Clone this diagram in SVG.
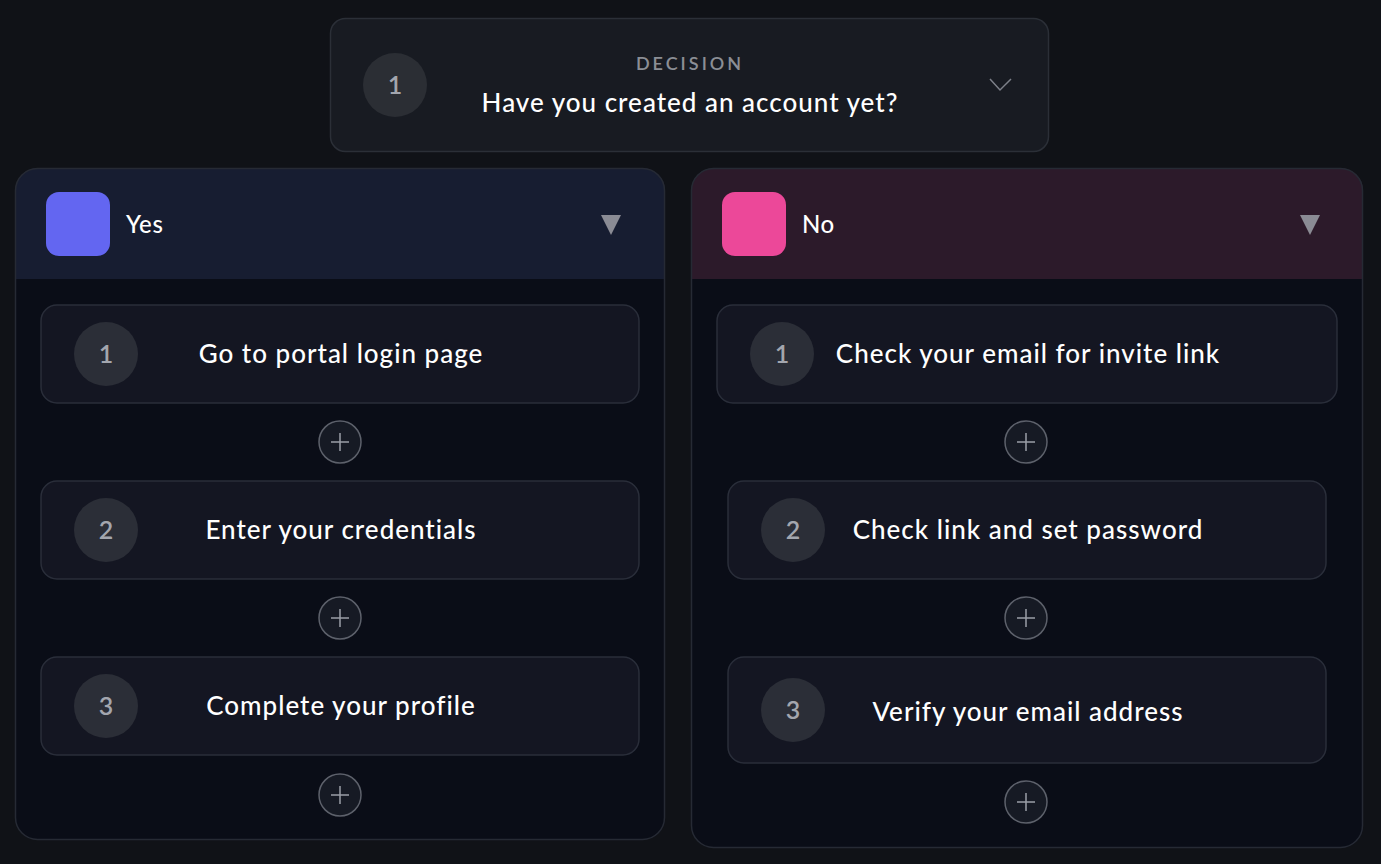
<svg xmlns="http://www.w3.org/2000/svg" width="1381" height="864" viewBox="0 0 1381 864">
<style>
.t{font-family:Lato,"Open Sans","Liberation Sans",sans-serif;fill:#fff;font-weight:500}
.card{fill:#141622;stroke:#2a2e3a;stroke-width:1.5}
.num{fill:#2b2e37}
.numt{font-family:Lato,"Liberation Sans",sans-serif;fill:#a3a6ae;font-size:25px;text-anchor:middle;font-weight:600}
.step{font-size:26px;text-anchor:middle;letter-spacing:1px}
.plus circle{fill:#161a24;stroke:#5d616b;stroke-width:1.5}
.plus path{stroke:#9a9ea6;stroke-width:1.5;fill:none}
.tri{fill:#8a8b94}
</style>
<rect width="1381" height="864" fill="#101217"/>
<g id="decision">
<rect x="330.5" y="18.5" width="718" height="133" rx="15" fill="#181b22" stroke="#2b2f37" stroke-width="1.5"/>
<circle cx="395" cy="85" r="32" fill="#2b2e34"/>
<text x="395" y="94" class="numt">1</text>
<text x="690" y="70" class="t" style="font-size:18px;fill:#8b8e95;letter-spacing:3px;font-weight:600" text-anchor="middle">DECISION</text>
<text x="690" y="112" class="t" style="font-size:26px;letter-spacing:1px" text-anchor="middle">Have you created an account yet?</text>
<path d="M990 79 L1000 90 L1011 79" fill="none" stroke="#7d8089" stroke-width="1.5"/>
</g>
<g id="branch-yes">
<path d="M15.5 279 V190 a22 22 0 0 1 22 -22 H643 a22 22 0 0 1 22 22 V279 Z" fill="#171d31"/>
<path d="M15.5 279 V818 a22 22 0 0 0 22 22 H643 a22 22 0 0 0 22 -22 V279 Z" fill="#0a0d17"/>
<rect x="15.5" y="168.5" width="649" height="671" rx="22" fill="none" stroke="#262a34" stroke-width="1.5"/>
<rect x="46" y="192" width="64" height="64" rx="13" fill="#6366f1"/>
<text x="126" y="233" class="t" style="font-size:24px;letter-spacing:0.6px">Yes</text>
<path class="tri" d="M601 215 H621 L611 235 Z"/>
</g>
<g id="branch-no">
<path d="M691.5 279 V190 a22 22 0 0 1 22 -22 H1341 a22 22 0 0 1 22 22 V279 Z" fill="#2c1a2a"/>
<path d="M691.5 279 V826 a22 22 0 0 0 22 22 H1341 a22 22 0 0 0 22 -22 V279 Z" fill="#0a0d17"/>
<rect x="691.5" y="168.5" width="671" height="679" rx="22" fill="none" stroke="#262a34" stroke-width="1.5"/>
<rect x="722" y="192" width="64" height="64" rx="13" fill="#ec4899"/>
<text x="802" y="233" class="t" style="font-size:24px;letter-spacing:0.6px">No</text>
<path class="tri" d="M1300 215 H1320 L1310 235 Z"/>
</g>
<g id="yes-step-1">
<rect class="card" x="41" y="305" width="598" height="98" rx="16"/>
<circle class="num" cx="106" cy="354" r="32"/>
<text class="numt" x="106" y="363">1</text>
<text class="t step" x="341" y="363">Go to portal login page</text>
</g>
<g id="yes-step-2">
<rect class="card" x="41" y="481" width="598" height="98" rx="16"/>
<circle class="num" cx="106" cy="530" r="32"/>
<text class="numt" x="106" y="539">2</text>
<text class="t step" x="341" y="539">Enter your credentials</text>
</g>
<g id="yes-step-3">
<rect class="card" x="41" y="657" width="598" height="98" rx="16"/>
<circle class="num" cx="106" cy="706" r="32"/>
<text class="numt" x="106" y="715">3</text>
<text class="t step" x="341" y="715">Complete your profile</text>
</g>
<g id="no-step-1">
<rect class="card" x="717" y="305" width="620" height="98" rx="16"/>
<circle class="num" cx="782" cy="354" r="32"/>
<text class="numt" x="782" y="363">1</text>
<text class="t step" x="1028" y="363">Check your email for invite link</text>
</g>
<g id="no-step-2">
<rect class="card" x="728" y="481" width="598" height="98" rx="16"/>
<circle class="num" cx="793" cy="530" r="32"/>
<text class="numt" x="793" y="539">2</text>
<text class="t step" x="1028" y="539">Check link and set password</text>
</g>
<g id="no-step-3">
<rect class="card" x="728" y="657" width="598" height="106" rx="16"/>
<circle class="num" cx="793" cy="710" r="32"/>
<text class="numt" x="793" y="719">3</text>
<text class="t step" x="1028" y="721">Verify your email address</text>
</g>
<g id="connectors">
<g class="plus"><circle cx="340" cy="442" r="21"/><path d="M331 442 H349 M340 433 V451"/></g>
<g class="plus"><circle cx="340" cy="618" r="21"/><path d="M331 618 H349 M340 609 V627"/></g>
<g class="plus"><circle cx="340" cy="795" r="21"/><path d="M331 795 H349 M340 786 V804"/></g>
<g class="plus"><circle cx="1026" cy="442" r="21"/><path d="M1017 442 H1035 M1026 433 V451"/></g>
<g class="plus"><circle cx="1026" cy="618" r="21"/><path d="M1017 618 H1035 M1026 609 V627"/></g>
<g class="plus"><circle cx="1026" cy="802" r="21"/><path d="M1017 802 H1035 M1026 793 V811"/></g>
</g>
</svg>
